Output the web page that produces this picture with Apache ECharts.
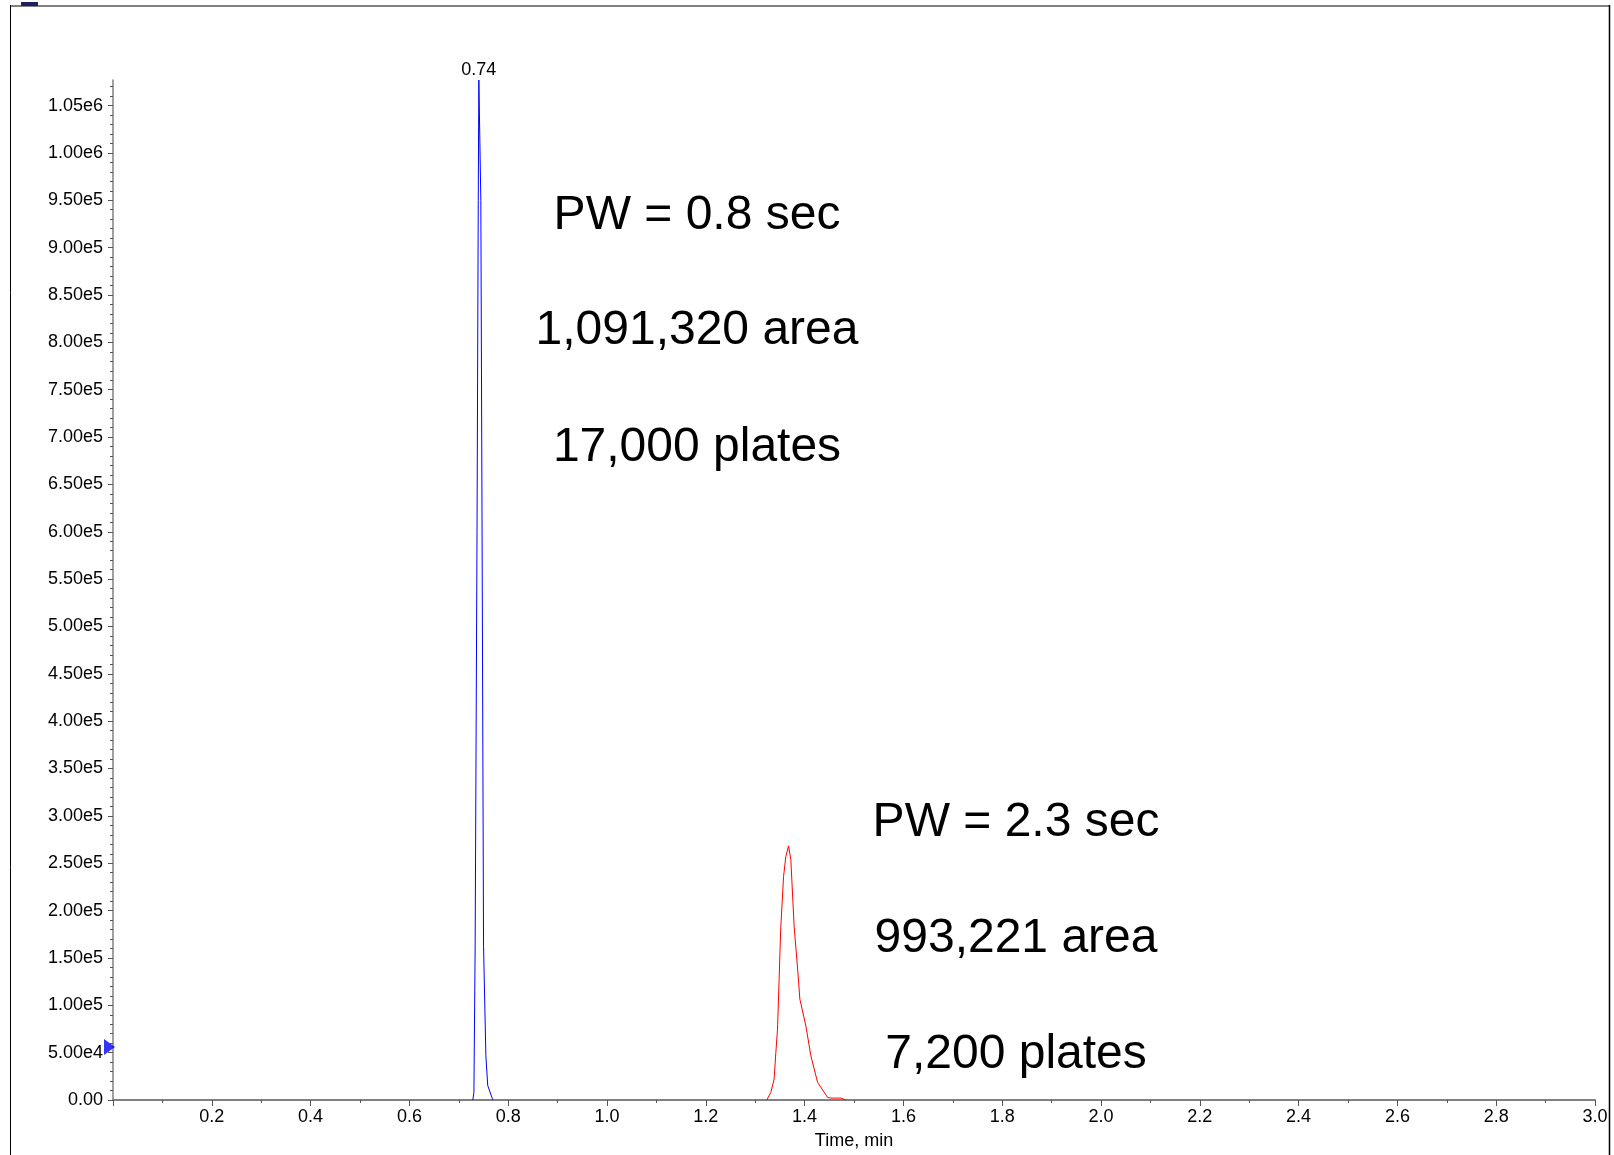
<!DOCTYPE html>
<html>
<head>
<meta charset="utf-8">
<title>Chromatogram</title>
<script src="https://cdn.jsdelivr.net/npm/echarts@6/dist/echarts.min.js"></script>
<style>
  html, body { margin: 0; padding: 0; background: #fff; }
  #chart { width: 1614px; height: 1155px; }
</style>
</head>
<body>
<div id="chart"></div>
<script>
// Extracted ion traces: [time (min), intensity (cps)]
const blueTrace = [
  [0.7284, 0], [0.7306, 8100], [0.7331, 162400], [0.7369, 600000],
  [0.7394, 950000], [0.7406, 1077000], [0.7446, 950000], [0.7471, 600000],
  [0.7501, 162400], [0.7548, 46700], [0.7586, 15200], [0.7679, 1500], [0.7690, 0]
];
const redTrace = [
  [1.3235, 0], [1.3317, 8100], [1.3383, 22200], [1.3418, 50200], [1.3452, 74800],
  [1.3484, 127400], [1.3505, 162400], [1.3519, 183400], [1.3574, 236000],
  [1.3620, 257000], [1.3675, 268300], [1.3721, 253900], [1.3788, 183400],
  [1.3870, 130800], [1.3904, 106600], [1.4026, 78200], [1.4127, 46700],
  [1.4263, 18600], [1.4465, 2800], [1.4532, 2000], [1.4735, 2000], [1.4836, 0]
];
// Threshold marker on the intensity axis
const thresholdLevel = 56000;

// Axis ticks
const xTickLabels = ['0.2','0.4','0.6','0.8','1.0','1.2','1.4','1.6','1.8','2.0','2.2','2.4','2.6','2.8','3.0'];
const yTickLabels = ['0.00','5.00e4','1.00e5','1.50e5','2.00e5','2.50e5','3.00e5','3.50e5','4.00e5','4.50e5',
  '5.00e5','5.50e5','6.00e5','6.50e5','7.00e5','7.50e5','8.00e5','8.50e5','9.00e5','9.50e5','1.00e6','1.05e6'];
const yMajorStep = 50000;
const yMinorStep = 10000;
const xMax = 3.0;

// Peak annotations
const peak1Notes = ['PW = 0.8 sec', '1,091,320 area', '17,000 plates'];
const peak2Notes = ['PW = 2.3 sec', '993,221 area', '7,200 plates'];

const yMax = Math.max(...blueTrace.map(p => p[1]));
const yMajorValues = yTickLabels.map(Number);
const yMinorValues = [];
for (let v = yMinorStep; v < yMax; v += yMinorStep) {
  if (v % yMajorStep !== 0) yMinorValues.push(v);
}

// Apex of the tallest peak carries its retention-time label
const apex = blueTrace.find(p => p[1] === yMax);

const FONT = 'Liberation Sans';
const SMALL = 18;

function noteTexts(lines, cx, ys) {
  return lines.map((t, i) => ({
    type: 'text',
    style: {
      text: t, x: cx, y: ys[i], align: 'center', verticalAlign: 'middle',
      fontFamily: FONT, fontSize: 48, fill: '#000'
    },
    z: 10
  }));
}

const chart = echarts.init(document.getElementById('chart'), null, { renderer: 'canvas' });

chart.setOption({
  backgroundColor: '#fff',
  animation: false,
  grid: { left: 113, right: 19, top: 80, bottom: 51, containLabel: false },
  xAxis: {
    type: 'value', min: 0, max: xMax, interval: 0.2,
    name: 'Time, min', nameLocation: 'middle', nameGap: 32,
    nameTextStyle: { fontFamily: FONT, fontSize: SMALL, color: '#000' },
    axisLine: { show: true, lineStyle: { color: '#808080', width: 2 } },
    axisTick: { show: true, length: 6, lineStyle: { color: '#555' } },
    minorTick: { show: true, splitNumber: 2, length: 3, lineStyle: { color: '#555' } },
    axisLabel: {
      showMinLabel: false, margin: 8,
      fontFamily: FONT, fontSize: SMALL, color: '#000',
      formatter: v => xTickLabels.find(s => Math.abs(Number(s) - v) < 1e-6) || ''
    },
    splitLine: { show: false }, minorSplitLine: { show: false }
  },
  yAxis: [
    {
      type: 'value', min: 0, max: yMax, interval: yMajorStep,
      axisLine: { show: true, lineStyle: { color: '#808080', width: 1.5 } },
      axisTick: { show: true, length: 5, customValues: yMajorValues, lineStyle: { color: '#555' } },
      axisLabel: {
        customValues: yMajorValues, margin: 10,
        fontFamily: FONT, fontSize: SMALL, color: '#000',
        formatter: v => yTickLabels[Math.round(v / yMajorStep)] || ''
      },
      splitLine: { show: false }
    },
    {
      type: 'value', min: 0, max: yMax, position: 'left', offset: 0,
      axisLine: { show: false },
      axisTick: { show: true, length: 3, customValues: yMinorValues, lineStyle: { color: '#555' } },
      axisLabel: { show: false },
      splitLine: { show: false }
    }
  ],
  series: [
    {
      type: 'line', data: blueTrace, showSymbol: false, symbol: 'none',
      lineStyle: { color: '#0000ff', width: 1 }, itemStyle: { color: '#0000ff' },
      clip: false, z: 3,
      markPoint: {
        symbol: 'circle', symbolSize: 0, silent: true, animation: false,
        data: [{ coord: apex, value: apex[0] }],
        label: {
          show: true, position: 'top', distance: 1,
          formatter: p => Number(p.value).toFixed(2),
          fontFamily: FONT, fontSize: SMALL, color: '#000'
        }
      }
    },
    {
      type: 'line', data: redTrace, showSymbol: false, symbol: 'none',
      lineStyle: { color: '#ff0000', width: 1 }, itemStyle: { color: '#ff0000' },
      clip: false, z: 3
    },
    {
      type: 'scatter', data: [[0, thresholdLevel]],
      symbol: 'triangle', symbolSize: [16, 11], symbolRotate: -90, symbolOffset: [-3.5, 0],
      itemStyle: { color: '#0000ff' }, clip: false, z: 5, silent: true
    }
  ],
  graphic: [
    { type: 'line', shape: { x1: 10, y1: 6, x2: 1610, y2: 6 }, style: { stroke: '#808080', lineWidth: 2 } },
    { type: 'line', shape: { x1: 10.5, y1: 5, x2: 10.5, y2: 1155 }, style: { stroke: '#000', lineWidth: 1 } },
    { type: 'line', shape: { x1: 1609.5, y1: 5, x2: 1609.5, y2: 1155 }, style: { stroke: '#000', lineWidth: 1.5 } },
    { type: 'rect', shape: { x: 21, y: 2, width: 17, height: 4 }, style: { fill: '#202060' } },
    ...noteTexts(peak1Notes, 697, [216, 331, 448]),
    ...noteTexts(peak2Notes, 1016, [823, 939, 1055])
  ]
});
</script>
</body>
</html>
